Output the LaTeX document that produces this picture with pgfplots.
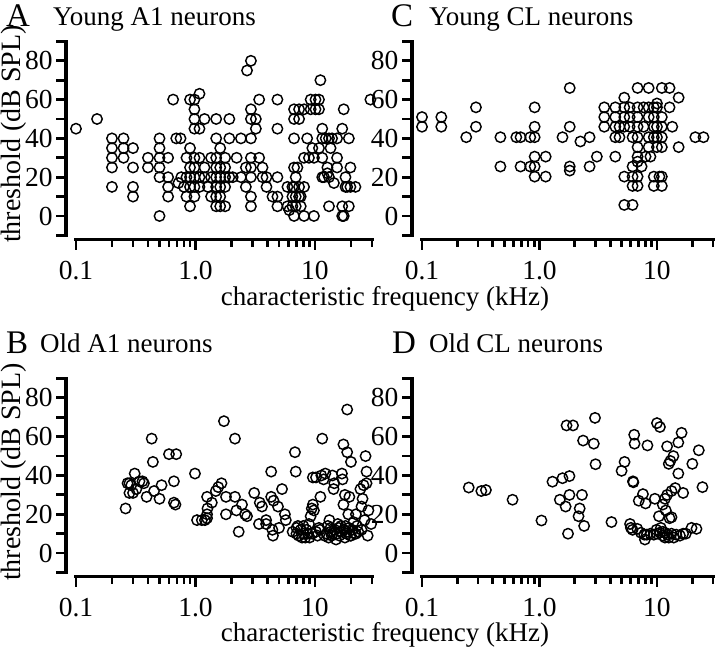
\documentclass[border=0pt]{standalone}
\usepackage{pgfplots}
\usepackage{pgfplotstable}
\pgfplotsset{compat=1.18}
\usepackage{fontspec}
\setmainfont{Liberation Serif}

\pgfplotstableread{
f y
0.1 45
0.15 50
0.2 40
0.2 35
0.2 30
0.2 25
0.2 15
0.25 40
0.25 35
0.25 30
0.3 35
0.3 25
0.3 15
0.3 10
0.4 30
0.4 25
0.5 40
0.5 35
0.5 30
0.5 25
0.5 20
0.5 0
0.59 30
0.59 20
0.59 15
0.59 10
0.65 60
0.69 40
0.75 40
0.72 17
0.76 20
0.8 15
0.84 30
0.84 20
0.84 10
0.9 60
0.9 35
0.9 25
0.9 20
0.9 15
0.9 5
0.98 60
0.98 55
0.98 50
0.98 45
0.98 30
0.98 25
0.98 20
0.98 15
0.98 10
1.08 63
1.08 45
1.08 30
1.08 20
1.08 15
1.19 50
1.19 25
1.19 20
1.27 15
1.35 30
1.35 20
1.35 10
1.49 50
1.49 40
1.49 30
1.49 25
1.49 20
1.49 15
1.49 10
1.49 5
1.61 35
1.61 25
1.61 20
1.61 15
1.61 10
1.61 5
1.77 30
1.77 25
1.77 20
1.77 15
1.77 5
1.92 50
1.92 40
1.92 20
2.05 20
2.21 30
2.4 40
2.4 20
2.64 25
2.64 15
2.7 75
2.91 80
2.91 55
2.91 50
2.91 40
2.91 30
2.91 25
2.91 20
2.91 10
2.91 5
3.2 50
3.2 45
3.41 60
3.41 30
3.64 25
3.64 20
3.93 20
3.93 15
4.41 10
4.85 60
4.85 45
4.85 20
4.85 10
4.85 5
5.88 15
5.88 5
6.1 3
6.47 15
6.47 10
6.47 5
6.68 55
6.68 50
6.68 40
6.68 25
6.68 15
6.68 0
6.9 20
6.9 10
6.9 5
7.13 25
7.36 55
7.36 50
7.36 15
7.36 10
7.6 10
7.6 5
8.1 55
8.1 30
8.1 15
8.1 0
8.6 40
8.9 30
9.2 55
9.2 60
9.5 35
9.8 30
9.8 0
10.1 60
10.1 55
10.8 60
10.8 55
10.8 35
11.1 70
11.5 45
11.5 40
11.5 30
11.5 20
11.9 20
12.3 40
12.7 25
12.7 22
13.1 40
13.1 20
13.1 5
13.5 35
13.9 40
14.4 17
15.3 40
15.3 30
15.3 25
16.9 45
16.9 5
16.9 0
17.4 55
17.4 0
18 20
18 15
18.6 15
19.2 40
19.2 5
19.8 25
19.8 15
21.8 15
29.1 60
}\youngAone

\pgfplotstableread{
f y
0.1 51
0.1 46
0.146 51
0.146 46
0.238 40.6
0.288 56
0.288 46
0.465 40.6
0.465 25.5
0.635 40.6
0.69 40.6
0.835 40.6
0.91 40.6
0.69 25.5
0.835 25.5
0.91 25.5
0.91 56
0.91 46
0.91 30.6
1.13 30.6
0.91 20.3
1.13 20.3
1.57 40.6
1.81 66
1.81 46
1.81 25.5
1.81 23.4
2.23 38.4
2.67 40.6
2.67 25.5
3.08 30.6
3.56 56
3.56 51
3.56 46
4.42 56
4.42 51
4.42 46
4.42 40.6
4.42 30.6
4.8 46
4.8 40.6
5.27 61
5.27 56
5.27 51
5.27 46
5.27 20.3
5.27 5.7
5.85 56
5.85 51
5.85 46
6.2 40.6
6.2 25.5
6.2 5.7
6.2 20.3
6.2 15.5
6.84 66
6.84 56
6.84 51
6.84 46
6.84 40.6
6.84 35.5
6.84 30.6
6.84 28
6.84 20.3
6.84 15.5
7.4 25.5
7.7 56
7.7 46
8 30.6
8.5 66
8.5 56
8.5 51
8.5 40.6
8.5 35.5
8.8 30.6
9.4 56
9.4 51
9.4 46
9.4 40.6
9.4 20.3
9.4 15.5
10 58
10 56
10 46
10 40.6
10 35.5
10.5 20.3
11 15.5
11 20.3
11 66
12.8 66
11 51
11 46
11 40.6
11 35.5
12.8 56
13.5 46
15.3 61
15.3 35.5
21.2 40.6
24.9 40.6
}\youngCL

\pgfplotstableread{
f y
0.26 23
0.27 36
0.28 36
0.29 35
0.28 31
0.3 31
0.31 41
0.32 33
0.34 37
0.36 37
0.37 36
0.39 29
0.43 59
0.44 47
0.45 32
0.5 28
0.52 35
0.6 51
0.66 37
0.69 51
0.66 26
0.68 25
0.99 41
1.03 17
1.13 17
1.2 17
1.25 18
1.25 20
1.26 23
1.25 29
1.37 26
1.48 32
1.55 34
1.65 36
1.73 68
1.8 29
1.8 20
2.14 59
2.14 29
2.2 22
2.3 11
2.45 25
2.6 20
2.7 19
3.1 31
3.45 26
3.6 24
3.4 15
3.9 15
3.9 17
4.3 42
4.3 29
4.5 27
4.4 12
4.45 9
4.9 24
5.0 13
5.3 33
5.6 20
5.7 17
6.8 52
6.9 42
6.5 11
7.0 10
7.2 14
7.3 9
7.6 12
7.8 8
8.0 10
8.3 8
8.5 12
8.7 10
8.9 15
9.0 8
9.2 19
9.4 23
9.6 25
9.8 22
9.6 39
10.2 39
10.2 11
10.5 9
10.8 13
11.1 29
11.5 59
11.3 40
11.8 38
12.2 41
12.5 10
12.8 14
13.0 8
13.2 17
13.5 11
13.8 9
14.0 40
14.3 33
14.5 36
14.6 12
15.0 7
15.2 10
15.5 15
15.8 13
16.0 9
16.3 11
16.8 41
17.0 38
17.3 56
17.3 25
17.5 12
17.8 30
17.8 8
18.0 14
18.3 10
18.6 74
18.6 52
19.0 20
19.2 13
19.4 29
19.8 9
20.0 47
20.5 12
21.0 16
21.5 10
22.0 20
22.5 14
23.0 11
24.0 33
24.5 24
24.5 12
25.0 28
25.5 35
26.0 17
26.5 50
27.0 42
27.0 36
27.6 9
28.0 22
29.5 15
7.0 13
8.0 14
9.5 10
11.0 12
12.0 9
13.5 13
14.0 10
16.5 14
18.5 11
20.0 9
22.0 10
}\oldAone

\pgfplotstableread{
f y
0.25 33.8
0.32 32
0.35 32.5
0.59 27.5
1.04 16.8
1.29 36.8
1.57 38.6
1.8 39.7
1.49 27.5
1.8 30
2.3 30
1.67 24
2.2 23
2.15 19
2.4 14
1.75 10
1.7 65.8
1.93 65.8
2.35 58
2.9 56.4
2.97 69.7
3.0 45.8
4.1 16
5.0 42.4
5.3 47
6.25 37
6.3 36.5
6.4 61
6.45 56.4
8.3 55.5
5.9 15
6.0 13
6.2 12
6.8 12.5
7.3 10.5
7.8 9.5
7.9 7
8.2 9.5
8.8 10
9.4 9.5
10.0 10
10.6 10.5
11.2 11
11.2 9
11.7 10.5
11.7 8
12.3 9.5
12.6 8
13.3 10
13.9 8
14.6 9.5
15.7 9
16.7 10
7.6 30.4
8.0 25.6
7.0 27
9.6 28
10.0 67
10.6 65
11.2 25
11.7 28
12.2 30
10.4 19
12.8 18
11.9 22
12.2 55
12.6 46
13.0 47.5
13.8 50
15.2 57
16.2 62
13.3 32
14.3 33.5
15.2 41
16.7 31
20.0 46
22.7 53
24.4 34
13.3 18.5
17.6 10
19.7 13
21.7 12.5
10.8 13
9.9 12
}\oldCL

\pgfplotsset{
  every axis/.append style={
    xmode=log, scale only axis, height=194pt,
    xmin=0.1, xmax=30, ymin=-10, ymax=90,
    clip=false,
    axis lines=left,
    axis x line shift=4pt,
    axis y line shift=10pt,
    axis line style={-},
    xtick={0.1,1,10}, xticklabels={0.1,1.0,10},
    minor xtick={0.2,0.3,0.4,0.5,0.6,0.7,0.8,0.9,2,3,4,5,6,7,8,9,20,30},
    ytick={-10,0,10,20,30,40,50,60,70,80,90},
    yticklabels={,0,,20,,40,,60,,80,},
    tick align=outside,
    major tick length=10pt, minor tick length=7pt,
    tick label style={font=\fontsize{27.5}{30}\selectfont, black},
    xticklabel style={yshift=-8pt},
  },
}

% heavy spines and ticks drawn over the axis lines, in axis coordinates
\newcommand{\drawspines}{%
  \draw[line width=3.2pt, line cap=rect] ([xshift=-10pt]axis cs:0.1,-10) -- ([xshift=-10pt]axis cs:0.1,90);
  \draw[line width=3.2pt, line cap=rect] ([yshift=-4pt]axis cs:0.1,-10) -- ([yshift=-4pt]axis cs:30,-10);
  \pgfplotsinvokeforeach{-10,0,10,20,30,40,50,60,70,80,90}{%
    \draw[line width=2.8pt] ([xshift=-10pt]axis cs:0.1,##1) -- ([xshift=-20pt]axis cs:0.1,##1);}%
  \pgfplotsinvokeforeach{0.1,1,10}{%
    \draw[line width=2.8pt] ([yshift=-4pt]axis cs:##1,-10) -- ([yshift=-15pt]axis cs:##1,-10);}%
  \pgfplotsinvokeforeach{0.2,0.3,0.4,0.5,0.6,0.7,0.8,0.9,2,3,4,5,6,7,8,9,20,30}{%
    \draw[line width=2.8pt] ([yshift=-4pt]axis cs:##1,-10) -- ([yshift=-12pt]axis cs:##1,-10);}%
}

\begin{document}
\begin{tikzpicture}
\useasboundingbox (0pt,0pt) rectangle (720pt,650pt);

\begin{axis}[width=296pt, at={(76pt,414.6pt)}, anchor=south west]
\addplot[only marks, mark=o, mark size=5.2pt, black, mark options={line width=1.45pt}] table[x=f,y=y] {\youngAone};
\drawspines
\end{axis}

\begin{axis}[width=291pt, at={(422pt,414.6pt)}, anchor=south west]
\addplot[only marks, mark=o, mark size=5.2pt, black, mark options={line width=1.45pt}] table[x=f,y=y] {\youngCL};
\drawspines
\end{axis}

\begin{axis}[width=296pt, at={(76pt,77.5pt)}, anchor=south west]
\addplot[only marks, mark=o, mark size=5.2pt, black, mark options={line width=1.45pt}] table[x=f,y=y] {\oldAone};
\drawspines
\end{axis}

\begin{axis}[width=291pt, at={(422pt,77.5pt)}, anchor=south west]
\addplot[only marks, mark=o, mark size=5.2pt, black, mark options={line width=1.45pt}] table[x=f,y=y] {\oldCL};
\drawspines
\end{axis}

\begin{scope}[every node/.style={inner sep=0pt}]
\node[anchor=base west, font=\fontsize{33}{33}\selectfont] at (6pt,623pt) {A};
\node[anchor=base west, font=\fontsize{27}{30}\selectfont] at (53pt,624pt) {Young A1 neurons};
\node[anchor=base west, font=\fontsize{33}{33}\selectfont] at (391pt,623pt) {C};
\node[anchor=base west, font=\fontsize{27}{30}\selectfont] at (429pt,624pt) {Young CL neurons};
\node[anchor=base west, font=\fontsize{33}{33}\selectfont] at (6pt,296pt) {B};
\node[anchor=base west, font=\fontsize{27}{30}\selectfont] at (40pt,297pt) {Old A1 neurons};
\node[anchor=base west, font=\fontsize{33}{33}\selectfont] at (392pt,296pt) {D};
\node[anchor=base west, font=\fontsize{27}{30}\selectfont] at (429pt,297pt) {Old CL neurons};
\node[rotate=90, font=\fontsize{28}{30}\selectfont] at (14pt,516pt) {threshold (dB SPL)};
\node[rotate=90, font=\fontsize{28}{30}\selectfont] at (14pt,178pt) {threshold (dB SPL)};
\node[anchor=base, font=\fontsize{27}{30}\selectfont] at (385pt,344pt) {characteristic frequency (kHz)};
\node[anchor=base, font=\fontsize{27}{30}\selectfont] at (385pt,8pt) {characteristic frequency (kHz)};
\end{scope}
\end{tikzpicture}
\end{document}
